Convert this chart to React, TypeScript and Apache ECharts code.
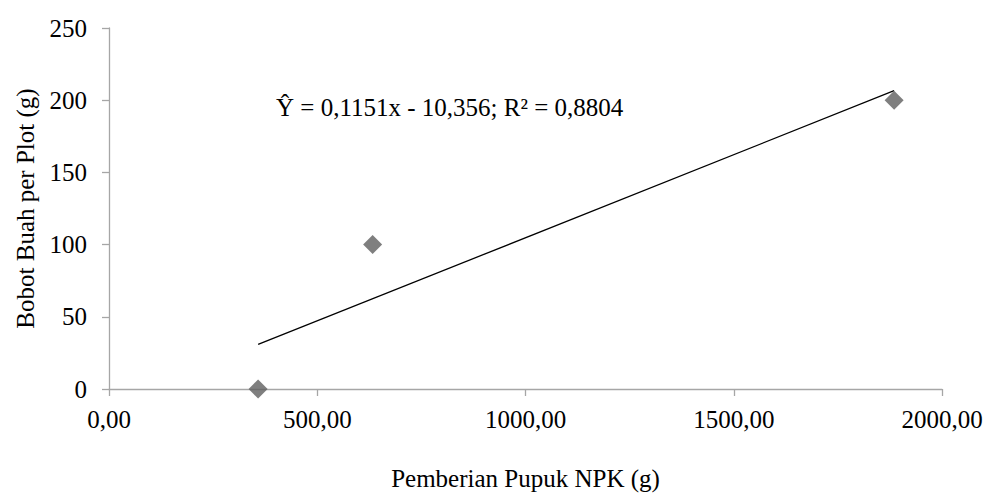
import React, { useEffect, useRef } from "react";
import * as echarts from "echarts";

const xValues = [358, 633, 1885];
const yValues = [0, 100, 200];
const slope = 0.1151;
const intercept = -10.356;
const xTicks = [0, 500, 1000, 1500, 2000];
const equationText = "Ŷ = 0,1151x - 10,356; R² = 0,8804";
const xAxisName = "Pemberian Pupuk NPK (g)";
const yAxisName = "Bobot Buah per Plot (g)";

const FONT = '"Liberation Serif", "Times New Roman", serif';
const FS = 25;

export default function App() {
  const ref = useRef<HTMLDivElement>(null);
  useEffect(() => {
    if (!ref.current) return;
    const chart = echarts.init(ref.current, undefined, { renderer: "svg" });
    const points = xValues.map((x, i) => [x, yValues[i]]);
    const xMin = Math.min(...xValues);
    const xMax = Math.max(...xValues);
    const trend = [
      [xMin, slope * xMin + intercept],
      [xMax, slope * xMax + intercept],
    ];
    chart.setOption({
      animation: false,
      backgroundColor: "#ffffff",
      textStyle: { fontFamily: FONT },
      grid: { left: 109, right: 45, top: 28, bottom: 101, containLabel: false },
      xAxis: {
        type: "value",
        min: xTicks[0],
        max: xTicks[xTicks.length - 1],
        interval: xTicks[1] - xTicks[0],
        name: xAxisName,
        nameLocation: "middle",
        nameGap: 77,
        nameTextStyle: { fontFamily: FONT, fontSize: FS, color: "#000" },
        axisLine: { show: true, lineStyle: { color: "#a6a6a6", width: 1.3 } },
        axisTick: { show: true, length: 7, lineStyle: { color: "#a6a6a6", width: 1.3 } },
        splitLine: { show: false },
        axisLabel: {
          fontFamily: FONT,
          fontSize: FS,
          color: "#000",
          margin: 18,
          formatter: (v: number) => v.toFixed(2).replace(".", ","),
        },
      },
      yAxis: {
        type: "value",
        min: 0,
        max: 250,
        interval: 50,
        name: yAxisName,
        nameLocation: "middle",
        nameGap: 71,
        nameRotate: 90,
        nameTextStyle: { fontFamily: FONT, fontSize: FS, color: "#000" },
        axisLine: { show: true, lineStyle: { color: "#a6a6a6", width: 1.3 } },
        axisTick: { show: true, length: 7, lineStyle: { color: "#a6a6a6", width: 1.3 } },
        splitLine: { show: false },
        axisLabel: { fontFamily: FONT, fontSize: FS, color: "#000", margin: 22 },
      },
      series: [
        {
          type: "line",
          data: trend,
          symbol: "none",
          lineStyle: { color: "#000", width: 1.3 },
          z: 2,
        },
        {
          type: "scatter",
          data: points,
          symbol: "diamond",
          symbolSize: 19,
          itemStyle: { color: "#5f5f5f" },
          z: 3,
        },
      ],
      graphic: [
        {
          type: "text",
          left: 276,
          top: 95,
          style: { text: equationText, fontFamily: FONT, fontSize: FS, fill: "#000" },
        },
      ],
    });
    return () => chart.dispose();
  }, []);
  return (
    <div
      ref={ref}
      style={{ position: "fixed", left: 0, top: 0, width: 987, height: 496, background: "#fff" }}
    />
  );
}
